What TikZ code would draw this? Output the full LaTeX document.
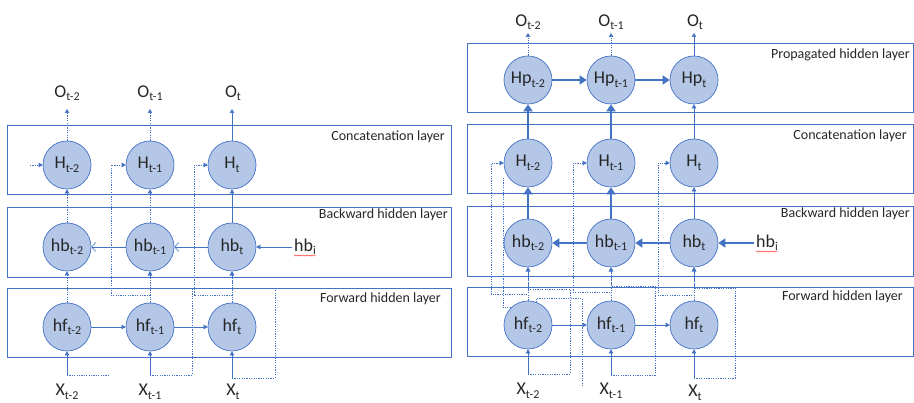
\documentclass[tikz,border=0pt]{standalone}
\usepackage{fontspec}
\setmainfont{Carlito}
\usetikzlibrary{arrows.meta,decorations.pathmorphing}
\definecolor{ac}{HTML}{4472C4}
\definecolor{nf}{HTML}{B4C7E7}
\definecolor{tx}{HTML}{262626}
\newcommand\lsub[1]{\raisebox{-3.5pt}{\fontsize{12}{12}\selectfont #1}}
\tikzset{
  neuron/.style={circle, draw=ac, fill=nf, line width=0.7pt, minimum size=48pt, inner sep=0pt, text=tx, font=\fontsize{18}{18}\selectfont},
  layerbox/.style={draw=ac, line width=0.8pt},
  ltext/.style={font=\fontsize{14}{14}\selectfont, text=tx, anchor=east, inner sep=0pt},
  lab/.style={font=\fontsize{18}{18}\selectfont, text=tx, inner sep=0pt},
  arr/.style={ac, line width=0.6pt, -{Triangle[length=4pt,width=4.5pt]}},
  darr/.style={ac, line width=0.6pt, dash pattern=on 1.2pt off 1.2pt, -{Triangle[length=4pt,width=4.5pt]}},
  dline/.style={ac, line width=0.6pt, dash pattern=on 1.2pt off 1.2pt},
  tarr/.style={ac, line width=2.2pt, -{Triangle[length=7pt,width=9pt]}},
  barr/.style={ac, line width=0.6pt, -{Straight Barb[length=4pt,width=9pt]}},
  wavy/.style={red!80, line width=0.4pt, decorate, decoration={snake, amplitude=0.6pt, segment length=2.2pt}}
}
\begin{document}
\begin{tikzpicture}[x=1pt,y=-1pt]
\useasboundingbox (0,0) rectangle (914,403);

% ================= LEFT =================
\draw[layerbox] (7,125) rectangle (451,194);
\draw[layerbox] (7,207) rectangle (451,277);
\draw[layerbox] (7,288) rectangle (451,357);
\node[ltext] at (445,137) {Concatenation layer};
\node[ltext] at (448,215) {Backward hidden layer};
\node[ltext] at (441,299) {Forward hidden layer};

\node[neuron] (LH1) at (67,165) {H\lsub{t-2}};
\node[neuron] (LH2) at (150,165) {H\lsub{t-1}};
\node[neuron] (LH3) at (232,165) {H\lsub{t}};
\node[neuron] (Lhb1) at (67,247) {hb\lsub{t-2}};
\node[neuron] (Lhb2) at (150,247) {hb\lsub{t-1}};
\node[neuron] (Lhb3) at (232,247) {hb\lsub{t}};
\node[neuron] (Lhf1) at (67,327) {hf\lsub{t-2}};
\node[neuron] (Lhf2) at (150,327) {hf\lsub{t-1}};
\node[neuron] (Lhf3) at (232,327) {hf\lsub{t}};

\node[lab, anchor=south] (LO1) at (67,101) {O\lsub{t-2}};
\node[lab, anchor=south] (LO2) at (150,101) {O\lsub{t-1}};
\node[lab, anchor=south] (LO3) at (233,101) {O\lsub{t}};
\node[lab, anchor=north] (LX1) at (67,384) {X\lsub{t-2}};
\node[lab, anchor=north] (LX2) at (150,384) {X\lsub{t-1}};
\node[lab, anchor=north] (LX3) at (233,384) {X\lsub{t}};
\node[lab, inner sep=2pt] (Lhbi) at (305,247) {hb\lsub{i}};
\draw[wavy] (294,255.5) -- (316,255.5);

\coordinate (LX1c) at (67,375);
\coordinate (LX2c) at (150,375);
\coordinate (LX3c) at (232,378);
\coordinate (Lin1) at (30,165);

\draw[darr, shorten >=8pt] (LH1) -- (LO1);
\draw[darr, shorten >=8pt] (LH2) -- (LO2);
\draw[arr, shorten >=8pt] (LH3.north) -- (LO3.south -| LH3.north);
\draw[darr] (Lhb1) -- (LH1);
\draw[darr] (Lhb2) -- (LH2);
\draw[arr] (Lhb3) -- (LH3);
\draw[barr] (Lhb3) -- (Lhb2);
\draw[barr] (Lhb2) -- (Lhb1);
\draw[arr] (Lhbi) -- (Lhb3);
\draw[darr] (Lhf1) -- (Lhb1);
\draw[darr] (Lhf2) -- (Lhb2);
\draw[darr] (Lhf3) -- (Lhb3);
\draw[arr] (Lhf1) -- (Lhf2);
\draw[arr] (Lhf2) -- (Lhf3);
\draw[arr] (LX1c) -- (Lhf1);
\draw[arr] (LX2c) -- (Lhf2);
\draw[arr] (LX3c) -- (Lhf3);

\draw[darr] (Lin1) -- (LH1);
\draw[dline] (LX1c) -- (108,375);
\draw[darr] (Lhf2.north) |- (111,295) |- (LH2.west);
\draw[darr] (LX2c) -- (192,375) -- (192,288) -| (Lhb2.south);
\draw[darr] (Lhf3.north) |- (194,295) |- (LH3.west);
\draw[darr] (LX3c) -- (275,378) -- (275,288) -| (Lhb3.south);

% ================= RIGHT =================
\draw[layerbox] (467,43) rectangle (913,112);
\draw[layerbox] (467,124) rectangle (913,193);
\draw[layerbox] (467,206) rectangle (913,276);
\draw[layerbox] (467,287) rectangle (913,356);
\node[ltext] at (910,55) {Propagated hidden layer};
\node[ltext] at (907,136) {Concatenation layer};
\node[ltext] at (910,214) {Backward hidden layer};
\node[ltext] at (903,297) {Forward hidden layer};

\node[neuron] (RHp1) at (528,80) {Hp\lsub{t-2}};
\node[neuron] (RHp2) at (611,80) {Hp\lsub{t-1}};
\node[neuron] (RHp3) at (694,80) {Hp\lsub{t}};
\node[neuron] (RH1) at (528,163) {H\lsub{t-2}};
\node[neuron] (RH2) at (611,163) {H\lsub{t-1}};
\node[neuron] (RH3) at (694,163) {H\lsub{t}};
\node[neuron] (Rhb1) at (528,243) {hb\lsub{t-2}};
\node[neuron] (Rhb2) at (611,243) {hb\lsub{t-1}};
\node[neuron] (Rhb3) at (694,243) {hb\lsub{t}};
\node[neuron] (Rhf1) at (528,325) {hf\lsub{t-2}};
\node[neuron] (Rhf2) at (611,325) {hf\lsub{t-1}};
\node[neuron] (Rhf3) at (694,325) {hf\lsub{t}};

\node[lab, anchor=south] (RO1) at (528,30) {O\lsub{t-2}};
\node[lab, anchor=south] (RO2) at (611,30) {O\lsub{t-1}};
\node[lab, anchor=south] (RO3) at (695,30) {O\lsub{t}};
\node[lab, anchor=north] (RX1) at (528,383) {X\lsub{t-2}};
\node[lab, anchor=north] (RX2) at (611,383) {X\lsub{t-1}};
\node[lab, anchor=north] (RX3) at (695,385) {X\lsub{t}};
\node[lab, inner sep=2pt] (Rhbi) at (767,243) {hb\lsub{i}};
\draw[wavy] (756,251.5) -- (778,251.5);

\coordinate (RX1c) at (528,374);
\coordinate (RX2c) at (611,375);
\coordinate (RX3c) at (694,378);

\draw[darr, shorten >=3pt] (RHp1) -- (RO1);
\draw[darr, shorten >=3pt] (RHp2) -- (RO2);
\draw[arr, shorten >=3pt] (RHp3.north) -- (RO3.south -| RHp3.north);
\draw[tarr] (RHp1) -- (RHp2);
\draw[tarr] (RHp2) -- (RHp3);
\draw[tarr] (RH1) -- (RHp1);
\draw[tarr] (RH2) -- (RHp2);
\draw[arr] (RH3) -- (RHp3);
\draw[tarr] (Rhb1) -- (RH1);
\draw[tarr] (Rhb2) -- (RH2);
\draw[arr] (Rhb3) -- (RH3);
\draw[tarr] (Rhb3) -- (Rhb2);
\draw[tarr] (Rhb2) -- (Rhb1);
\draw[tarr] (Rhbi) -- (Rhb3);
\draw[darr] (Rhf1) -- (Rhb1);
\draw[darr] (Rhf2) -- (Rhb2);
\draw[darr] (Rhf3) -- (Rhb3);
\draw[arr] (Rhf1) -- (Rhf2);
\draw[arr] (Rhf2) -- (Rhf3);
\draw[arr] (RX1c) -- (Rhf1);
\draw[arr] (RX2c) -- (Rhf2);
\draw[arr] (RX3c) -- (Rhf3);

\draw[darr] (Rhf1.north) |- (491,294) |- (RH1.west);
\draw[dline] (Rhf1.north west) -| (503,177);
\draw[darr] (RX1c) -- (570,374) -- (570,289) -| (Rhb1.south);
\draw[dline] (Rhf1.70) |- (582,298) -- (582,387);
\draw[darr] (Rhf2.north) |- (573,292) |- (RH2.west);
\draw[darr] (RX2c) -- (655,375) -- (655,286) -| (Rhb2.south);
\draw[darr] (Rhf3.north) |- (658,295) |- (RH3.west);
\draw[darr] (RX3c) -- (735,378) -- (735,288) -| (Rhb3.south);
\end{tikzpicture}
\end{document}
